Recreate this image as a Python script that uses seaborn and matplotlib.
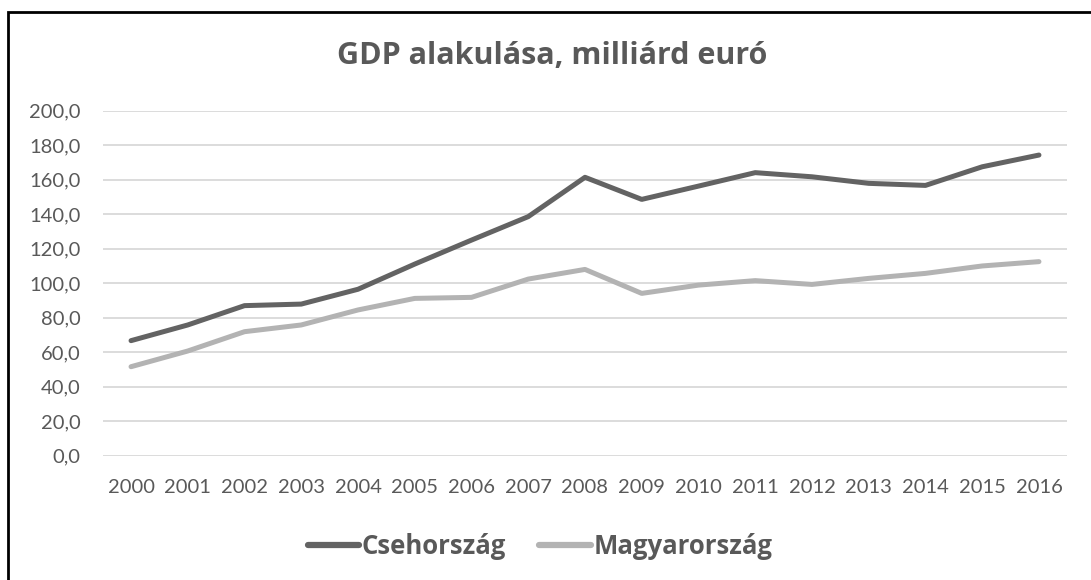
import numpy as np
import pandas as pd
import matplotlib.pyplot as plt
import matplotlib.patches as mpatches
import seaborn as sns

# Data
years = [str(y) for y in range(2000, 2017)]
cseh = [66.7, 75.8, 87.0, 87.9, 96.5, 111.1, 125.0, 138.6, 161.4, 148.6,
        156.3, 164.1, 161.7, 157.9, 156.7, 167.5, 174.3]
magyar = [51.6, 60.7, 71.9, 75.8, 84.5, 91.2, 91.8, 102.4, 108.0, 94.1,
          98.9, 101.5, 99.3, 102.8, 105.7, 110.0, 112.5]
series_names = ['Csehország', 'Magyarország']
yticks = np.arange(0, 201, 20)

DARK = '#636363'
LIGHT = '#B3B3B3'
TEXT = '#595959'

sns.set_style('white')
plt.rcParams['font.family'] = ['Lato', 'DejaVu Sans']
BOLD_FONT = ['Open Sans', 'DejaVu Sans']

df = pd.DataFrame({
    'year': years * 2,
    'value': cseh + magyar,
    'country': [series_names[0]] * len(years) + [series_names[1]] * len(years),
})

fig = plt.figure(figsize=(10.91, 5.80), dpi=100)
ax = fig.add_axes([0.0941, 0.2143, 0.8842, 0.5948])

sns.lineplot(data=df, x='year', y='value', hue='country', palette=[DARK, LIGHT],
             linewidth=3.6, ax=ax, legend=False, sort=False)
for line in ax.lines:
    line.set_solid_capstyle('round')
    line.set_solid_joinstyle('round')

ax.set_xlim(-0.5, len(years) - 0.5)
ax.set_ylim(0, 200)
ax.set_yticks(yticks)
ax.set_yticklabels([f'{v:.1f}'.replace('.', ',') for v in yticks])
ax.set_xlabel('')
ax.set_ylabel('')
ax.grid(axis='y', color='#D9D9D9', linewidth=1.3)
ax.set_axisbelow(True)
for s in ax.spines.values():
    s.set_visible(False)
ax.tick_params(axis='both', length=0, labelsize=14.5, colors=TEXT)
ax.tick_params(axis='y', pad=16)
ax.tick_params(axis='x', pad=17)

fig.text(552 / 1091, 1 - 56 / 580, 'GDP alakulása, milliárd euró', ha='center', va='center',
         fontsize=22, fontweight='bold', color=TEXT, family=BOLD_FONT)

handles = [plt.Line2D([], [], color=DARK, linewidth=4.5, solid_capstyle='round'),
           plt.Line2D([], [], color=LIGHT, linewidth=4.5, solid_capstyle='round')]
fig.legend(handles, series_names, loc='center', bbox_to_anchor=(540 / 1091, 1 - 546 / 580),
           ncol=2, frameon=False, handlelength=2.0, handletextpad=0.1, columnspacing=1.3,
           prop={'size': 18.5, 'weight': 'bold', 'family': BOLD_FONT}, labelcolor=TEXT)

# outer chart border (partially cropped in the original)
fig.patches.append(mpatches.Rectangle((8 / 1091, -0.1), 1.2, 1 - 12 / 580 + 0.1,
                                      transform=fig.transFigure, fill=False,
                                      edgecolor='black', linewidth=2))

plt.savefig('out.png', dpi=100)
plt.close()
